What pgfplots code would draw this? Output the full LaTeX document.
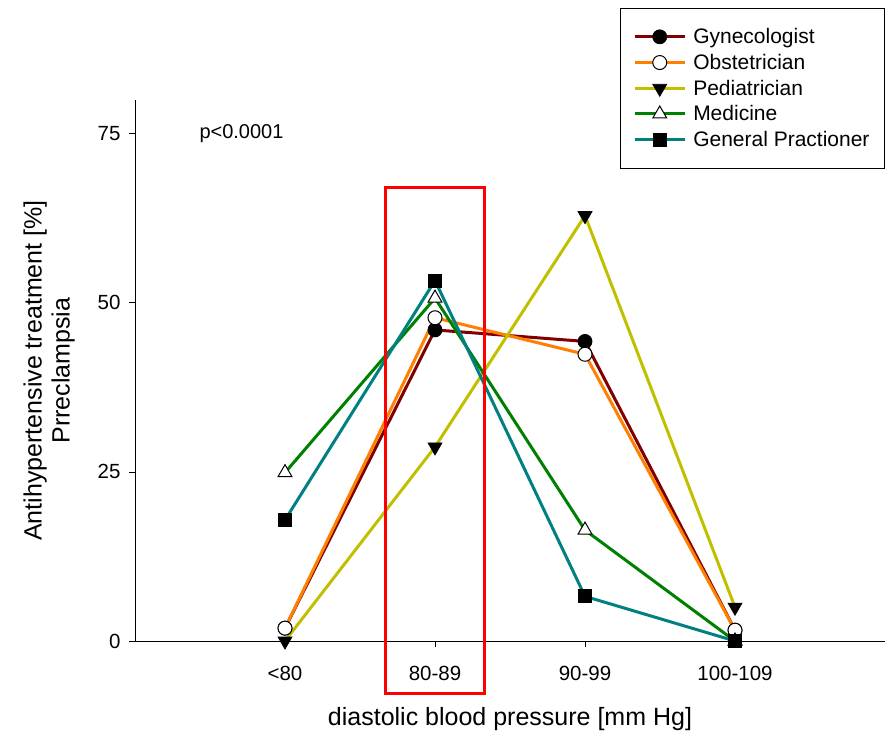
\documentclass[border=0pt]{standalone}
\usepackage{fontspec}
\setmainfont{Liberation Sans}
\usepackage{pgfplots}
\pgfplotsset{compat=1.18}
\definecolor{cGyn}{RGB}{128,0,0}
\definecolor{cObs}{RGB}{255,128,0}
\definecolor{cPed}{RGB}{192,192,0}
\definecolor{cMed}{RGB}{0,128,0}
\definecolor{cGP}{RGB}{0,128,128}
\pgfplotsset{legend image code/.code={\draw[mark repeat=2,mark phase=2,#1] plot coordinates {(0pt,0pt) (25pt,0pt) (50pt,0pt)};}}
\begin{document}
\begin{tikzpicture}
\useasboundingbox (0,0) rectangle (885pt,731pt);
\begin{axis}[at={(135pt,90pt)}, anchor=south west, scale only axis, width=750pt, height=541pt,
  xmin=0, xmax=5, ymin=0, ymax=80,
  axis x line*=bottom, axis y line*=left, axis line style={line width=1pt, -},
  xtick={1,2,3,4}, xticklabels={<80,80-89,90-99,100-109},
  ytick={0,25,50,75},
  tick align=outside, major tick length=6pt, tick style={line width=0.8pt, black},
  /pgf/number format/assume math mode=true,
  ticklabel style={font=\fontsize{20.5}{24}\selectfont},
  xticklabel style={yshift=-16pt},
  yticklabel style={xshift=-5pt},
  xlabel={diastolic blood pressure [mm Hg]},
  ylabel={Antihypertensive treatment [\%]\\Prreclampsia},
  label style={font=\fontsize{25}{28}\selectfont},
  ylabel style={align=center, at={(axis description cs:-0.08,0.5)}, anchor=south, inner sep=0pt},
  xlabel style={at={(axis description cs:0.5,-0.122)}, anchor=north, inner sep=0pt},
  clip=false,
  legend style={at={(axis description cs:1,1.1701)}, anchor=north east, font=\fontsize{21}{26.5}\selectfont, draw=black, line width=1pt, inner xsep=13pt, inner ysep=18pt, row sep=5pt, cells={anchor=west}, /tikz/every odd column/.append style={column sep=5pt}},
]
\addplot[cGyn, line width=3pt, mark=*, mark size=7pt, mark options={draw=black, fill=black, line width=0.8pt}]
  coordinates {(1,1.9) (2,46.0) (3,44.3) (4,1.6)};
\addlegendentry{Gynecologist}
\addplot[cObs, line width=3pt, mark=*, mark size=7pt, mark options={draw=black, fill=white, line width=1pt}]
  coordinates {(1,1.9) (2,47.8) (3,42.4) (4,1.6)};
\addlegendentry{Obstetrician}
\addplot[cPed, line width=3pt, mark=triangle*, mark size=8pt, mark options={draw=black, fill=black, line width=0.8pt, rotate=180}]
  coordinates {(1,0) (2,28.7) (3,62.9) (4,5.0)};
\addlegendentry{Pediatrician}
\addplot[cMed, line width=3pt, mark=triangle*, mark size=8pt, mark options={draw=black, fill=white, line width=1pt}]
  coordinates {(1,24.9) (2,50.7) (3,16.4) (4,0)};
\addlegendentry{Medicine}
\addplot[cGP, line width=3pt, mark=square*, mark size=6.5pt, mark options={draw=black, fill=black, line width=0.8pt}]
  coordinates {(1,17.9) (2,53.3) (3,6.6) (4,0)};
\addlegendentry{General Practioner}
\node[font=\fontsize{20}{24}\selectfont] at (axis cs:0.71,75) {p<0.0001};
\draw[red, line width=3pt] (axis cs:1.673,-7.7) rectangle (axis cs:2.327,67);
\end{axis}
\end{tikzpicture}
\end{document}
